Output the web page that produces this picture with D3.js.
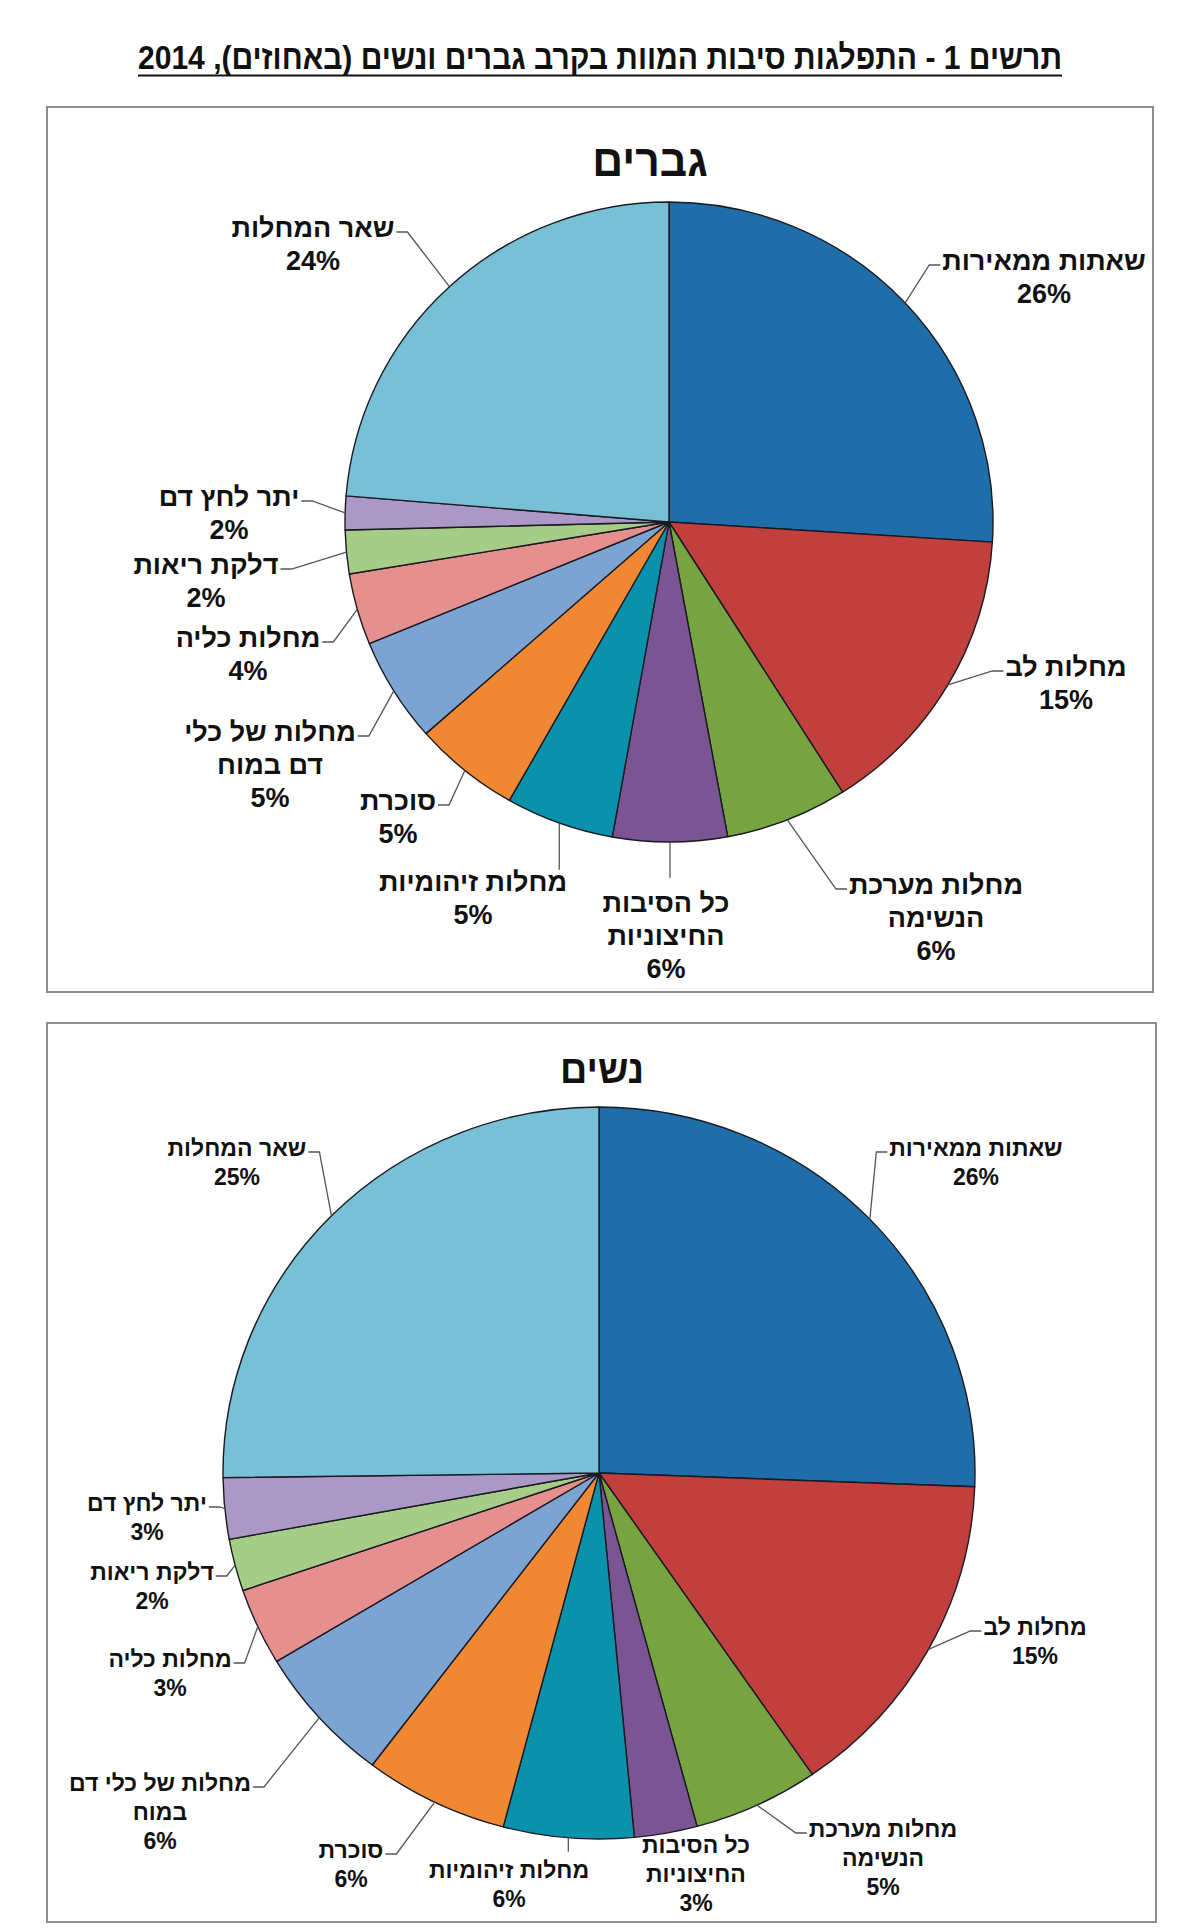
<!DOCTYPE html>
<html><head><meta charset="utf-8">
<script src="https://cdn.jsdelivr.net/npm/d3@7"></script>
<style>
body{margin:0;background:#fff}
svg{display:block}
text{font-family:"Liberation Sans",Arial,sans-serif;font-weight:bold;fill:#111}
</style>
</head><body>
<svg id="chart" width="1200" height="1931"></svg>
<script>
// ---------- data ----------
const chartTitle = "תרשים 1 - התפלגות סיבות המוות בקרב גברים ונשים (באחוזים), 2014";
const panelTitles = ["גברים", "נשים"];
const categories = [
  "שאתות ממאירות", "מחלות לב", "מחלות מערכת הנשימה", "כל הסיבות החיצוניות",
  "מחלות זיהומיות", "סוכרת", "מחלות של כלי דם במוח", "מחלות כליה",
  "דלקת ריאות", "יתר לחץ דם", "שאר המחלות"
];
const menValues   = [26.0, 15.0, 6.1, 5.7, 5.4, 5.3, 5.3, 3.6, 2.2, 1.7, 23.7];
const womenValues = [25.6, 14.8, 5.4, 2.7, 5.6, 6.2, 6.1, 3.4, 2.3, 2.7, 25.2];
const sliceColors = ["#1f6eaa", "#c1403e", "#77a340", "#7b5494", "#0a92ac",
                     "#f08833", "#7ca4d2", "#e5908f", "#a6cd87", "#ac98c6", "#78c0d6"];

// ---------- layout (positions only) ----------
const menLayout = [
  {x:1044, y:261, side:"right"},
  {x:1066, y:667, side:"right"},
  {x:936,  y:885, split:[2,1], side:"right"},
  {x:666,  y:903, split:[2,1], side:"down", gap:13},
  {x:473,  y:882, side:"down", gap:0},
  {x:398,  y:801, side:"left"},
  {x:270,  y:732, split:[3,2], side:"left"},
  {x:248,  y:638, side:"left"},
  {x:206,  y:565, side:"left"},
  {x:229,  y:497, side:"left"},
  {x:313,  y:228, side:"left"}
];
const womenLayout = [
  {x:976,  y:1148, side:"right"},
  {x:1035, y:1627, side:"right"},
  {x:883,  y:1829, split:[2,1], side:"right"},
  {x:696,  y:1845, split:[2,1], side:"none"},
  {x:509,  y:1870, side:"down", gap:8},
  {x:351,  y:1850, side:"left"},
  {x:160,  y:1783, split:[4,1], side:"left"},
  {x:170,  y:1659, side:"left"},
  {x:152,  y:1572, side:"left"},
  {x:147,  y:1503, side:"left"},
  {x:237,  y:1148, side:"left"}
];

const panels = [
  {title: panelTitles[0], values: menValues, layout: menLayout,
   box:{x:47, y:107, w:1106, h:885}, cx:669, cy:522, rx:324, ry:320,
   titleX:650, titleY:160, titleSize:45, titleSqueeze:0.95, fontSize:27, lineH:33},
  {title: panelTitles[1], values: womenValues, layout: womenLayout,
   box:{x:47, y:1023, w:1109, h:899}, cx:599, cy:1473, rx:376, ry:366,
   titleX:602, titleY:1069, titleSize:39, titleSqueeze:0.97, fontSize:23, lineH:29}
];

const svg = d3.select("#chart");

// main title
svg.append("text")
  .attr("x", 600).attr("y", 69)
  .attr("text-anchor", "middle")
  .attr("direction", "rtl")
  .attr("font-size", 34)
  .attr("textLength", 924)
  .attr("lengthAdjust", "spacingAndGlyphs")
  .text(chartTitle);
svg.append("line").attr("x1", 138).attr("x2", 1062).attr("y1", 75.5).attr("y2", 75.5)
  .attr("stroke", "#111").attr("stroke-width", 2.2);

const pie = d3.pie().sort(null).value(d => d);

panels.forEach(p => {
  svg.append("rect")
    .attr("x", p.box.x).attr("y", p.box.y).attr("width", p.box.w).attr("height", p.box.h)
    .attr("fill", "#fff").attr("stroke", "#8e8e8e").attr("stroke-width", 2);

  const tt = svg.append("text")
    .attr("x", p.titleX).attr("y", p.titleY).attr("dy", "0.35em")
    .attr("text-anchor", "middle").attr("direction", "rtl")
    .attr("font-size", p.titleSize)
    .text(p.title);
  const tw = tt.node().getComputedTextLength();
  tt.attr("textLength", tw * p.titleSqueeze).attr("lengthAdjust", "spacingAndGlyphs");

  const arcs = pie(p.values);
  const arc = d3.arc().innerRadius(0).outerRadius(p.ry);
  const g = svg.append("g")
    .attr("transform", `translate(${p.cx},${p.cy}) scale(${p.rx / p.ry},1)`);
  g.selectAll("path").data(arcs).join("path")
    .attr("d", arc)
    .attr("fill", (d, i) => sliceColors[i])
    .attr("stroke", "#1a1a22").attr("stroke-width", 1.4)
    .attr("vector-effect", "non-scaling-stroke")
    .attr("stroke-linejoin", "round");

  arcs.forEach((a, i) => {
    const L = p.layout[i];
    const words = categories[i].split(" ");
    const split = L.split || [words.length];
    const lines = [];
    let k = 0;
    split.forEach(n => { lines.push(words.slice(k, k + n).join(" ")); k += n; });
    lines.push(Math.round(p.values[i]) + "%");

    let firstW = 0;
    lines.forEach((ln, j) => {
      const tx = svg.append("text")
        .attr("x", L.x).attr("y", L.y + j * p.lineH).attr("dy", "0.35em")
        .attr("text-anchor", "middle").attr("direction", "rtl")
        .attr("font-size", p.fontSize)
        .text(ln);
      if (j === 0) firstW = tx.node().getComputedTextLength();
    });

    const mid = (a.startAngle + a.endAngle) / 2;
    const ex = p.cx + p.rx * Math.sin(mid);
    const ey = p.cy - p.ry * Math.cos(mid);
    let pts = null;
    if (L.side === "left") {
      const tr = L.x + firstW / 2;
      const x2 = Math.min(tr + 13, ex);
      pts = [[tr + 2, L.y + 4], [x2, L.y + 4], [ex, ey]];
    } else if (L.side === "right") {
      const tl = L.x - firstW / 2;
      const x2 = Math.max(tl - 13, ex);
      pts = [[tl - 2, L.y + 4], [x2, L.y + 4], [ex, ey]];
    } else if (L.side === "down") {
      pts = [[ex, ey], [ex, L.y - p.fontSize * 0.45 - L.gap]];
    }
    if (pts) {
      svg.append("path")
        .attr("d", d3.line()(pts))
        .attr("fill", "none").attr("stroke", "#555").attr("stroke-width", 1.3);
    }
  });
});
</script>
</body></html>
